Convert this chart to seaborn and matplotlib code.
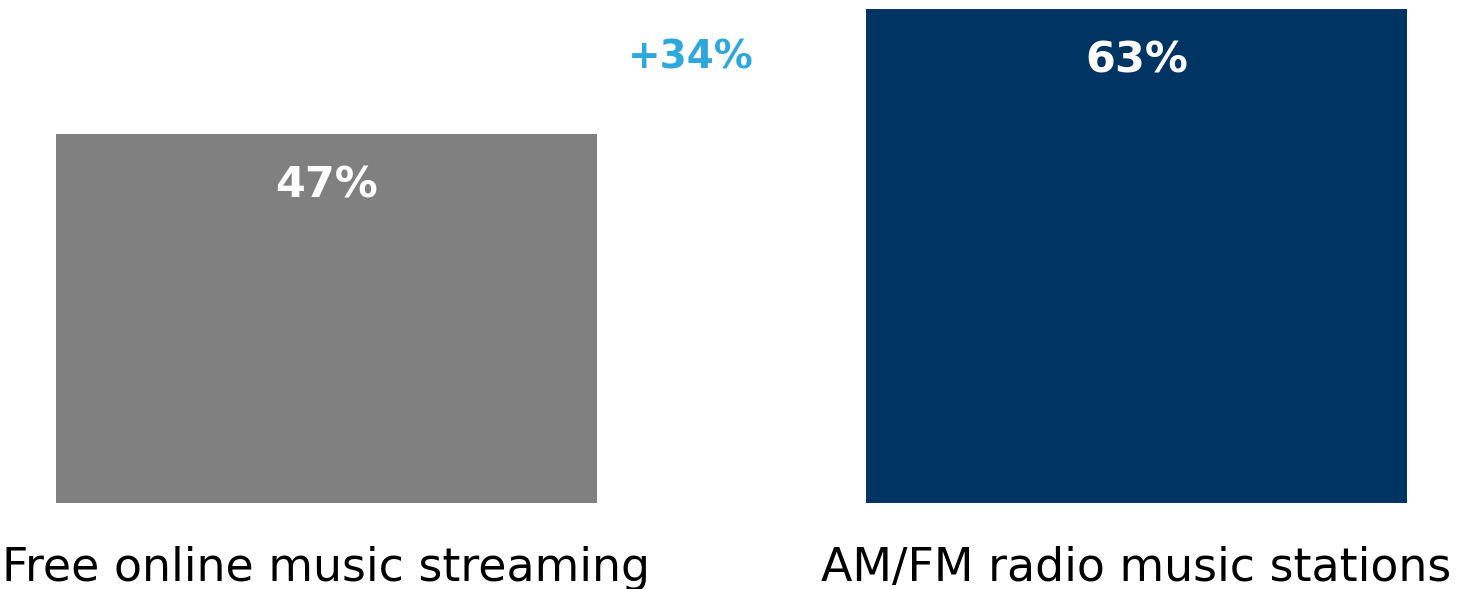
import matplotlib
matplotlib.use("Agg")
import matplotlib.pyplot as plt
import seaborn as sns
import pandas as pd

categories = ["Free online music streaming", "AM/FM radio music stations"]
shares = [47, 63]
bar_colors = ["#808080", "#003462"]
change_label = "+34%"

sns.set_theme(style="white")
plt.rcParams["font.family"] = ["DejaVu Sans"]

df = pd.DataFrame({"category": categories, "share": shares})

fig = plt.figure(figsize=(14.58, 5.89), dpi=100)
ax = fig.add_axes([0, 86 / 589, 1, 503 / 589])

sns.barplot(data=df, x="category", y="share", hue="category",
            palette=bar_colors, width=0.668, legend=False, ax=ax,
            saturation=1, linewidth=0)

ax.set_xlim(-0.403, 1.397)
ax.set_ylim(0, 64.15)

for i, v in enumerate(shares):
    ax.annotate(f"{v}%", xy=(i, v), xytext=(0, -37), textcoords="offset points",
                ha="center", va="center", color="white", fontsize=31,
                fontweight="bold")

ax.text(0.45, 56.8, change_label, ha="center", va="center",
        color="#2EA8DC", fontsize=28, fontweight="bold")

ax.set_xlabel("")
ax.set_ylabel("")
ax.set_yticks([])
ax.tick_params(axis="x", length=0, pad=31, labelsize=33)
for lbl in ax.get_xticklabels():
    lbl.set_color("black")
for s in ax.spines.values():
    s.set_visible(False)

fig.savefig("out.png", dpi=100)
